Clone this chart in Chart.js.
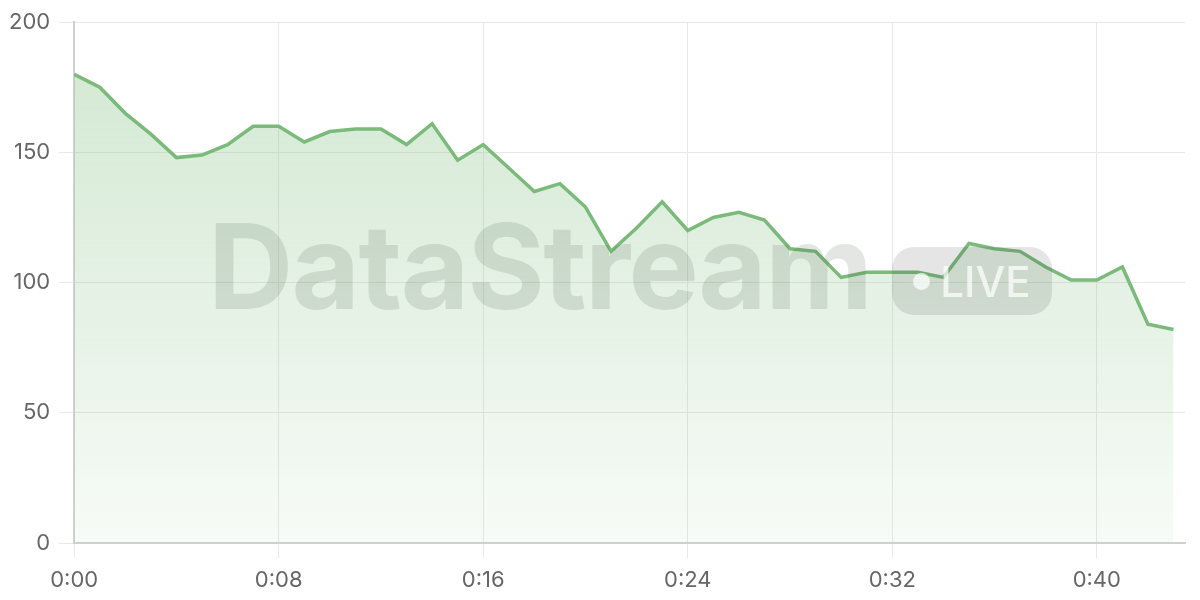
<!DOCTYPE html>
<html><head><meta charset="utf-8">
<script src="https://cdn.jsdelivr.net/npm/chart.js@4"></script>
<style>
html,body{margin:0;padding:0;background:#fff;}
#wrap{position:relative;width:1200px;height:600px;}
#wm{position:absolute;left:208px;top:207px;font-family:Inter,"Liberation Sans",sans-serif;font-weight:700;font-size:118px;letter-spacing:-1.6px;color:rgba(70,85,70,0.15);pointer-events:none;line-height:1;}
#pill{position:absolute;left:892px;top:247px;width:160px;height:68px;border-radius:22px;background:rgba(70,70,70,0.14);pointer-events:none;font-family:Inter,"Liberation Sans",sans-serif;font-weight:500;font-size:42px;color:rgba(255,255,255,0.7);display:flex;align-items:center;justify-content:center;gap:10px;}
#pill .dot{width:17px;height:17px;border-radius:50%;background:rgba(255,255,255,0.7);}
</style></head>
<body><div id="wrap"><canvas id="c" width="1200" height="600"></canvas>
<div id="wm">DataStream</div>
<div id="pill"><span class="dot"></span><span>LIVE</span></div>
</div>
<script>
const minutes = [0,1,2,3,4,5,6,7,8,9,10,11,12,13,14,15,16,17,18,19,20,21,22,23,24,25,26,27,28,29,30,31,32,33,34,35,36,37,38,39,40,41,42,43];
const values = [180,175,165,157,148,149,153,160,160,154,158,159,159,153,161,147,153,144,135,138,129,112,121,131,120,125,127,124,113,112,102,104,104,104,102,115,113,112,106,101,101,106,84,82];
const xTicks = [0,8,16,24,32,40];
const yTicks = [0,50,100,150,200];

const ctx = document.getElementById('c').getContext('2d');
new Chart(ctx,{
  type:'line',
  data:{datasets:[{
    data: minutes.map((m,i)=>({x:m,y:values[i]})),
    borderColor:'#7aba7a',
    borderWidth:3.5,
    pointRadius:0,
    tension:0,
    fill:'origin',
    backgroundColor:(c)=>{
      const a=c.chart.chartArea; if(!a) return 'rgba(122,186,122,0.2)';
      const g=c.chart.ctx.createLinearGradient(0,a.top,0,a.bottom);
      g.addColorStop(0,'rgba(122,186,122,0.35)');
      g.addColorStop(1,'rgba(122,186,122,0.06)');
      return g;
    }
  }]},
  options:{
    responsive:false,animation:false,
    layout:{padding:{left:0,right:15,top:9,bottom:-2}},
    plugins:{legend:{display:false},tooltip:{enabled:false}},
    scales:{
      x:{type:'linear',min:0,max:43.45,
        afterBuildTicks:(ax)=>{ax.ticks=xTicks.map(v=>({value:v}));},
        ticks:{color:'#666',font:{family:'Inter',size:22,lineHeight:1},padding:11,
          callback:(v)=>'0:'+String(v).padStart(2,'0')},
        grid:{color:'#e8e8e8',lineWidth:1,tickLength:15,tickColor:'#e8e8e8'},
        border:{color:'#d0d0d0',width:2}
      },
      y:{min:0,max:200,
        afterBuildTicks:(ax)=>{ax.ticks=yTicks.map(v=>({value:v}));},
        ticks:{color:'#666',font:{family:'Inter',size:22},padding:9},
        grid:{color:'#e8e8e8',lineWidth:1,tickLength:15,tickColor:'#e8e8e8'},
        border:{color:'#d0d0d0',width:2}
      }
    }
  }
});
</script></body></html>
